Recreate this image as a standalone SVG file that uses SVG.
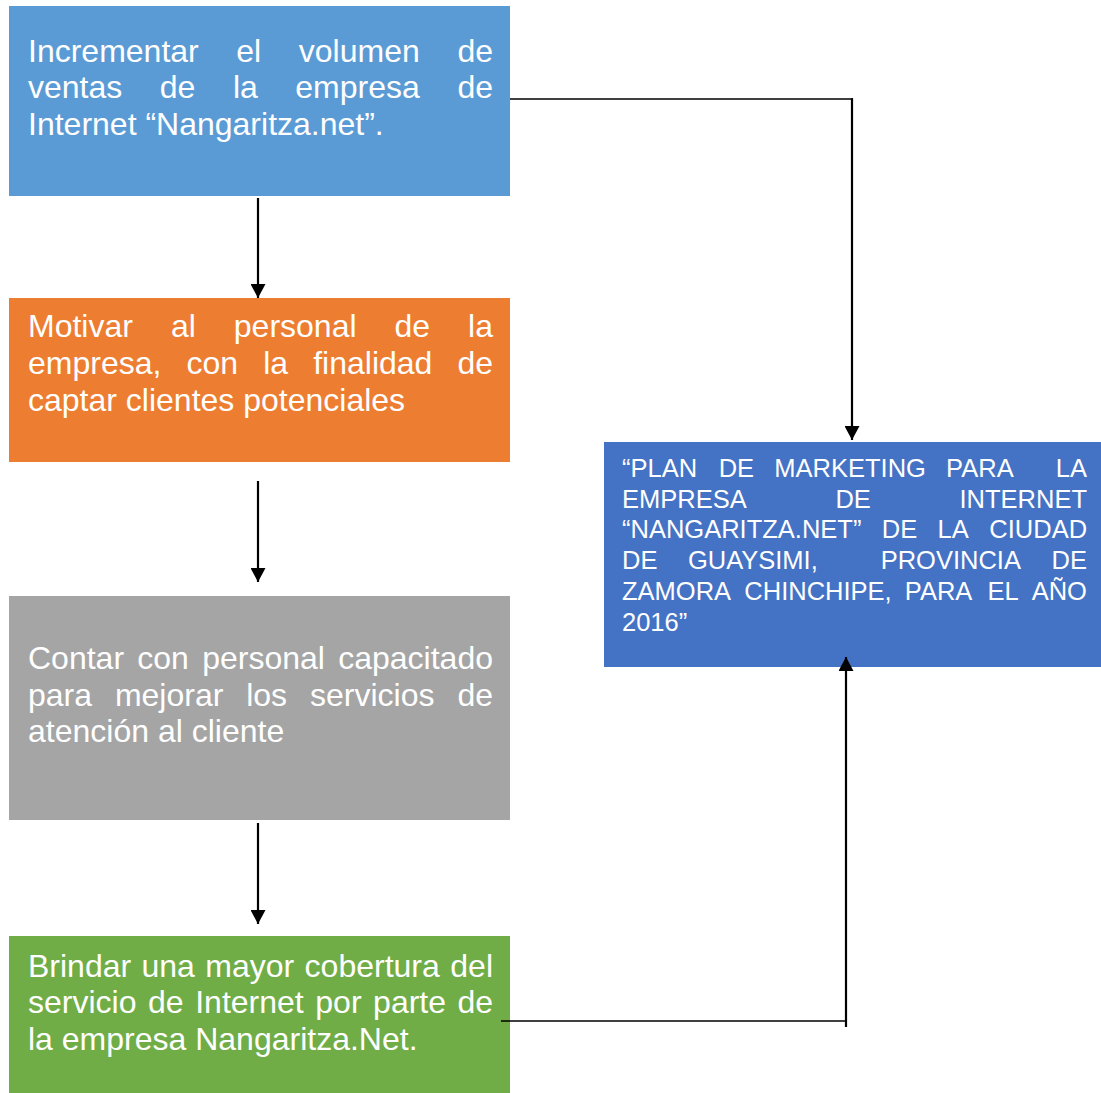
<svg xmlns="http://www.w3.org/2000/svg" width="1101" height="1093" viewBox="0 0 1101 1093">
<style>
.t{font-family:"Liberation Sans",Arial,sans-serif;font-size:32px;fill:#fff}
.s{font-family:"Liberation Sans",Arial,sans-serif;font-size:25.5px;fill:#fff}
.c{fill:none;stroke:#000}
</style>
<defs>
<marker id="ah" viewBox="0 0 14 15" markerWidth="14" markerHeight="15" refX="14" refY="7.5" orient="auto" markerUnits="userSpaceOnUse">
<path d="M0,0 L14,7.5 L0,15 z" fill="#000"/>
</marker>
</defs>
<rect width="1101" height="1093" fill="#fff"/>
<g id="n1">
<rect x="9" y="6" width="501" height="190" fill="#5B9BD5"/>
<text class="t" y="61.7"><tspan x="28">Incrementar </tspan><tspan x="236.3">el </tspan><tspan x="298.8">volumen </tspan><tspan x="457.4">de</tspan></text>
<text class="t" y="98.4"><tspan x="28">ventas </tspan><tspan x="159.8">de </tspan><tspan x="232.9">la </tspan><tspan x="295.3">empresa </tspan><tspan x="457.4">de</tspan></text>
<text class="t" x="28" y="135.1">Internet “Nangaritza.net”.</text>
</g>
<g id="n2">
<rect x="9" y="298" width="501" height="164" fill="#ED7D31"/>
<text class="t" y="337.3"><tspan x="28">Motivar </tspan><tspan x="170.9">al </tspan><tspan x="233.8">personal </tspan><tspan x="394.5">de </tspan><tspan x="468.1">la</tspan></text>
<text class="t" y="374.1"><tspan x="28">empresa, </tspan><tspan x="186.5">con </tspan><tspan x="263.2">la </tspan><tspan x="313.2">finalidad </tspan><tspan x="457.4">de</tspan></text>
<text class="t" x="28" y="410.9">captar clientes potenciales</text>
</g>
<g id="n3">
<rect x="9" y="596" width="501" height="224" fill="#A5A5A5"/>
<text class="t" y="668.8"><tspan x="28">Contar </tspan><tspan x="137.3">con </tspan><tspan x="202.2">personal </tspan><tspan x="338.2">capacitado</tspan></text>
<text class="t" y="705.6"><tspan x="28">para </tspan><tspan x="114.9">mejorar </tspan><tspan x="246.2">los </tspan><tspan x="310">servicios </tspan><tspan x="457.4">de</tspan></text>
<text class="t" x="28" y="742.4">atención al cliente</text>
</g>
<g id="n4">
<rect x="9" y="936" width="501" height="157" fill="#70AD47"/>
<text class="t" y="976.6"><tspan x="28">Brindar </tspan><tspan x="141.5">una </tspan><tspan x="205.3">mayor </tspan><tspan x="304.6">cobertura </tspan><tspan x="450.3">del</tspan></text>
<text class="t" y="1013.4"><tspan x="28">servicio </tspan><tspan x="148">de </tspan><tspan x="195.2">Internet </tspan><tspan x="315.3">por </tspan><tspan x="373.1">parte </tspan><tspan x="457.4">de</tspan></text>
<text class="t" x="28" y="1050.2">la empresa Nangaritza.Net.</text>
</g>
<g id="n5">
<rect x="604" y="442" width="497" height="225" fill="#4472C4"/>
<text class="s" y="476.7"><tspan x="622">“PLAN </tspan><tspan x="718.7">DE </tspan><tspan x="774.3">MARKETING </tspan><tspan x="946.1">PARA </tspan><tspan x="1055.8">LA</tspan></text>
<text class="s" y="507.5"><tspan x="622">EMPRESA </tspan><tspan x="835.4">DE </tspan><tspan x="959.5">INTERNET</tspan></text>
<text class="s" y="538.3"><tspan x="622">“NANGARITZA.NET” </tspan><tspan x="881.8">DE </tspan><tspan x="937.6">LA </tspan><tspan x="989.3">CIUDAD</tspan></text>
<text class="s" y="569.1"><tspan x="622">DE </tspan><tspan x="687.9">GUAYSIMI, </tspan><tspan x="880.7">PROVINCIA </tspan><tspan x="1051.6">DE</tspan></text>
<text class="s" y="599.9"><tspan x="622">ZAMORA </tspan><tspan x="744.3">CHINCHIPE, </tspan><tspan x="904.8">PARA </tspan><tspan x="987.4">EL </tspan><tspan x="1031.7">AÑO</tspan></text>
<text class="s" x="622" y="630.7">2016”</text>
</g>
<g id="connectors">
<line class="c" x1="258" y1="198" x2="258" y2="298" stroke-width="2.2" marker-end="url(#ah)"/>
<line class="c" x1="258" y1="481" x2="258" y2="582" stroke-width="2.2" marker-end="url(#ah)"/>
<line class="c" x1="258" y1="823" x2="258" y2="924" stroke-width="2.2" marker-end="url(#ah)"/>
<line class="c" x1="510" y1="99" x2="853" y2="99" stroke-width="1.5"/>
<line class="c" x1="852" y1="98.3" x2="852" y2="440" stroke-width="2.2" marker-end="url(#ah)"/>
<line class="c" x1="501" y1="1021" x2="846" y2="1021" stroke-width="1.5"/>
<line class="c" x1="846" y1="1027" x2="846" y2="657" stroke-width="2.2" marker-end="url(#ah)"/>
</g>
</svg>
